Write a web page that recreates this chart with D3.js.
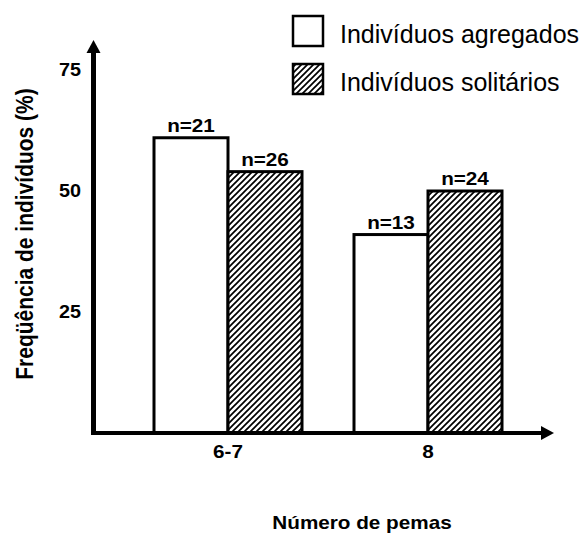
<!DOCTYPE html>
<html><head><meta charset="utf-8">
<script src="https://cdn.jsdelivr.net/npm/d3@7"></script>
<style>body{margin:0;background:#fff}svg{display:block}text{font-family:"Liberation Sans",Arial,sans-serif}</style>
</head><body>
<script>
const categories = ["6-7", "8"];
const series = ["Indivíduos agregados", "Indivíduos solitários"];
const agregados = [61, 41];
const solitarios = [54, 50];
const nLabels = [["n=21", "n=26"], ["n=13", "n=24"]];
const yTicks = [25, 50, 75];
const yTitle = "Freqüência de indivíduos (%)";
const xTitle = "Número de pemas";

const W = 585, H = 533;
const SX = 1.15; // horizontal glyph stretch seen in the reference
const svg = d3.select("body").append("svg").attr("width", W).attr("height", H);
const defs = svg.append("defs");
const pat = defs.append("pattern").attr("id", "hatch").attr("patternUnits", "userSpaceOnUse")
  .attr("width", 6).attr("height", 6);
pat.append("rect").attr("width", 6).attr("height", 6).attr("fill", "#fff");
pat.append("path").attr("d", "M-1.5,1.5 L1.5,-1.5 M0,6 L6,0 M4.5,7.5 L7.5,4.5")
  .attr("stroke", "#000").attr("stroke-width", 1.7);

const x0 = d3.scaleBand().domain(categories).range([128, 528]).paddingInner(0.26).paddingOuter(0.13);
const x1 = d3.scaleBand().domain(series).range([0, x0.bandwidth()]);
const y = d3.scaleLinear().domain([0, 75]).range([433, 70]);

const data = categories.map((c, i) => ({cat: c, vals: [agregados[i], solitarios[i]], labels: nLabels[i]}));

const g = svg.append("g");
const groups = g.selectAll("g.grp").data(data).join("g")
  .attr("transform", d => `translate(${x0(d.cat)},0)`);
groups.selectAll("rect").data(d => d.vals.map((v, j) => ({s: series[j], v, j}))).join("rect")
  .attr("x", d => x1(d.s)).attr("width", x1.bandwidth())
  .attr("y", d => y(d.v)).attr("height", d => y(0) - y(d.v))
  .attr("fill", d => d.j === 0 ? "#fff" : "url(#hatch)")
  .attr("stroke", "#000").attr("stroke-width", 3);
groups.selectAll("text").data(d => d.vals.map((v, j) => ({s: series[j], v, l: d.labels[j]}))).join("text")
  .attr("transform", d => `translate(${x1(d.s) + x1.bandwidth() / 2},${y(d.v) - 6}) scale(${SX},1)`)
  .attr("text-anchor", "middle").attr("font-weight", "bold").attr("font-size", 18)
  .text(d => d.l);

// axes
const yAxis = d3.axisLeft(y).tickValues(yTicks).tickSize(0).tickPadding(13);
const ya = svg.append("g").attr("transform", "translate(94,0)").call(yAxis);
ya.select(".domain").remove();
ya.selectAll("text").attr("x", 0).attr("transform", "translate(-13,0) scale(1.1,1)")
  .attr("font-size", 18).attr("font-weight", "bold")
  .attr("font-family", "'Liberation Sans',Arial,sans-serif").attr("fill", "#000");

const xAxis = d3.axisBottom(x0).tickSize(0).tickPadding(12);
const xa = svg.append("g").attr("transform", `translate(0,${y(0)})`).call(xAxis);
xa.select(".domain").remove();
xa.selectAll("text").attr("transform", `scale(${SX},1)`)
  .attr("font-size", 18).attr("font-weight", "bold")
  .attr("font-family", "'Liberation Sans',Arial,sans-serif").attr("fill", "#000");

// axis lines with arrows
svg.append("line").attr("x1", 93.5).attr("x2", 93.5).attr("y1", y(0) + 2).attr("y2", 52)
  .attr("stroke", "#000").attr("stroke-width", 5);
svg.append("path").attr("d", "M86.5,53 L93.5,40 L100.5,53 Z").attr("fill", "#000");
svg.append("line").attr("x1", 91).attr("x2", 542).attr("y1", y(0)).attr("y2", y(0))
  .attr("stroke", "#000").attr("stroke-width", 4);
svg.append("path").attr("d", `M541,${y(0) - 7} L554,${y(0)} L541,${y(0) + 7} Z`).attr("fill", "#000");

// titles
svg.append("text").attr("transform", `translate(33,234) scale(${SX},1) rotate(-90)`)
  .attr("text-anchor", "middle").attr("font-weight", "bold").attr("font-size", 21).text(yTitle);
svg.append("text").attr("transform", `translate(362,529) scale(${SX},1)`)
  .attr("text-anchor", "middle").attr("font-weight", "bold").attr("font-size", 18).text(xTitle);

// legend
const leg = svg.append("g");
series.forEach((s, i) => {
  const yy = 16 + i * 48;
  leg.append("rect").attr("x", 293).attr("y", yy).attr("width", 30).attr("height", 30)
    .attr("fill", i === 0 ? "#fff" : "url(#hatch)").attr("stroke", "#000").attr("stroke-width", 2.5);
  leg.append("text").attr("x", 340).attr("y", yy + 27).attr("font-size", 25).text(s);
});
</script>
</body></html>
